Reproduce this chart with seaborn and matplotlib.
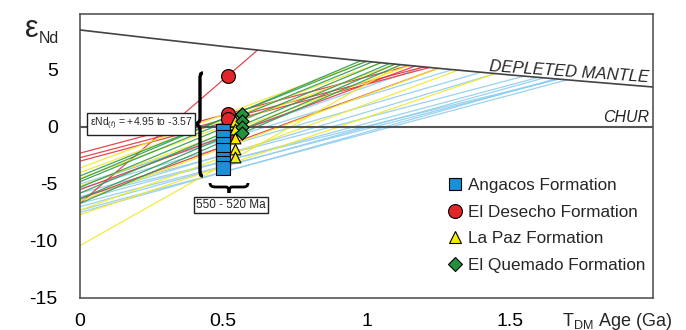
import numpy as np
import pandas as pd
import matplotlib
matplotlib.use("Agg")
import matplotlib.pyplot as plt
from matplotlib.path import Path
from matplotlib.patches import PathPatch
from matplotlib.lines import Line2D
import seaborn as sns

# ---------------- data ----------------
# Depleted mantle reference curve
dm_t = [0.0, 0.25, 0.5, 0.75, 1.0, 1.25, 1.5, 1.75, 2.0]
dm_eps = [8.5, 7.77, 7.06, 6.39, 5.75, 5.14, 4.56, 4.02, 3.5]

formations = ["Angacos Formation", "El Desecho Formation",
              "La Paz Formation", "El Quemado Formation"]

# evolution lines: epsilon at T=0 and model age T_DM (Ga)
ang_e0 = [-5.0, -5.2, -5.4, -5.8, -6.1, -6.2, -6.4, -6.7, -7.0, -7.3, -7.5]
ang_tdm = [1.30, 1.20, 1.40, 1.55, 1.67, 1.45, 1.60, 1.67, 1.62, 1.70, 1.66]
des_e0 = [-6.7, -2.3, -2.7, -3.0, -5.5, -6.3]
des_tdm = [0.62, 1.15, 1.20, 1.22, 1.17, 1.25]
paz_e0 = [-3.6, -4.0, -4.5, -5.2, -6.5, -7.3, -7.7, -10.4]
paz_tdm = [1.00, 1.05, 1.10, 1.15, 1.25, 1.32, 1.45, 1.12]
que_e0 = [-4.3, -4.6, -4.8, -5.3, -5.8, -6.3, -6.7]
que_tdm = [1.00, 0.98, 1.02, 1.05, 1.08, 1.10, 1.12]

# crystallisation-age samples
ang_age, ang_eps = 0.50, [-0.4, -0.9, -1.5, -2.0, -2.8, -3.2, -3.57]
des_age, des_eps = 0.515, [4.45, 1.1, 0.7, -0.8]
paz_age, paz_eps = 0.54, [0.5, -0.2, -1.0, -1.9, -2.6]
que_age, que_eps = 0.565, [1.1, 0.5, 0.0, -0.5]

# ---------------- tables ----------------
rows = []
uid = 0
for form, e0s, tdms in zip(formations,
                           [ang_e0, des_e0, paz_e0, que_e0],
                           [ang_tdm, des_tdm, paz_tdm, que_tdm]):
    for e0, t in zip(e0s, tdms):
        rows.append(dict(formation=form, unit=uid, T=0.0, eps=e0))
        rows.append(dict(formation=form, unit=uid, T=t,
                         eps=float(np.interp(t, dm_t, dm_eps))))
        uid += 1
lines_df = pd.DataFrame(rows)

pts = []
for form, age, eps in zip(formations, [ang_age, des_age, paz_age, que_age],
                          [ang_eps, des_eps, paz_eps, que_eps]):
    for e in eps:
        pts.append(dict(formation=form, T=age, eps=e))
pts_df = pd.DataFrame(pts)

# ---------------- style ----------------
sns.set_style("white")
plt.rcParams["font.family"] = ["Liberation Sans", "DejaVu Sans"]
plt.rcParams["mathtext.fontset"] = "custom"
plt.rcParams["mathtext.rm"] = "Liberation Sans"
plt.rcParams["mathtext.it"] = "Liberation Sans:italic"

line_colors = {"Angacos Formation": "#8fcdee",
               "El Desecho Formation": "#e5333b",
               "La Paz Formation": "#f4e82a",
               "El Quemado Formation": "#2f9a52"}
mk_face = {"Angacos Formation": "#1b8fd8",
           "El Desecho Formation": "#e0262b",
           "La Paz Formation": "#f6ec00",
           "El Quemado Formation": "#23913c"}
mk_shape = {"Angacos Formation": "s", "El Desecho Formation": "o",
            "La Paz Formation": "^", "El Quemado Formation": "D"}
mk_size = {"Angacos Formation": 88, "El Desecho Formation": 100,
           "La Paz Formation": 60, "El Quemado Formation": 45}

W, H = 686, 330
fig = plt.figure(figsize=(W / 100, H / 100), dpi=100)
ax = fig.add_axes([80 / W, 1 - 298 / H, (653 - 80) / W, (298 - 14) / H])

sns.lineplot(data=lines_df, x="T", y="eps", hue="formation", units="unit",
             estimator=None, palette=line_colors, lw=0.9, alpha=0.9,
             legend=False, ax=ax, zorder=2)

# reference curves
sns.lineplot(x=dm_t, y=dm_eps, color="#444444", lw=1.2, ax=ax, zorder=3)
ax.axhline(0, color="#555555", lw=1.5, zorder=3)

# markers
for form in ["El Desecho Formation", "Angacos Formation",
             "La Paz Formation", "El Quemado Formation"]:
    sub = pts_df[pts_df.formation == form]
    sns.scatterplot(data=sub, x="T", y="eps", marker=mk_shape[form],
                    s=mk_size[form], color=mk_face[form], edgecolor="black",
                    linewidth=0.8, ax=ax, zorder=5, legend=False)

ax.set_xlim(0, 2.0)
ax.set_ylim(-15, 9.9)
ax.set_xticks([0, 0.5, 1, 1.5])
ax.set_xticklabels(["0", "0.5", "1", "1.5"])
ax.set_yticks([5, 0, -5, -10, -15])
ax.set_yticklabels(["5", "0", "-5", "-10", "-15"])
ax.tick_params(axis="both", direction="inout", width=1,
               color="#a0a0a0", labelsize=14, labelcolor="black")
ax.tick_params(axis="y", length=26, pad=3)
ax.tick_params(axis="x", length=22, pad=0)
for sp in ax.spines.values():
    sp.set_color("#555555")
    sp.set_linewidth(1.2)
ax.set_xlabel("")
ax.set_ylabel("")

# axis titles
fig.text(25 / W, 1 - 37 / H, "ε", fontsize=22, ha="left", va="baseline")
fig.text(39 / W, 1 - 43 / H, "Nd", fontsize=11.5, ha="left", va="baseline")
fig.text(617 / W, 1 - 321 / H, r"T$_{\mathrm{DM}}$ Age (Ga)", fontsize=13,
         ha="center", va="center")

# curve labels
ax.text(1.985, 3.7, "DEPLETED MANTLE", fontsize=12, style="italic",
        ha="right", va="bottom", rotation=-4, rotation_mode="anchor")
ax.text(1.985, 0.2, "CHUR", fontsize=11.5, style="italic", ha="right",
        va="bottom")

# boxed annotations
fig.text(141 / W, 1 - 124 / H, "εNd$_{(t)}$ = +4.95 to -3.57", fontsize=7.5,
         ha="center", va="center",
         bbox=dict(boxstyle="square,pad=0.25", fc="white", ec="#222222", lw=1))
fig.text(231 / W, 1 - 205 / H, "550 - 520 Ma", fontsize=8.5,
         ha="center", va="center",
         bbox=dict(boxstyle="square,pad=0.2", fc="white", ec="#222222", lw=1))


def px(x, y):
    return (x / W, 1 - y / H)


# vertical brace
xc, y0, y1, ym, tip = 200, 73, 176, 124, 193
verts = [px(xc + 3, y0), px(xc, y0), px(xc, y0 + 2), px(xc, y0 + 8),
         px(xc, ym - 6),
         px(xc, ym - 2), px(xc - 2, ym), px(tip, ym),
         px(xc - 2, ym), px(xc, ym + 2), px(xc, ym + 6),
         px(xc, y1 - 8),
         px(xc, y1 - 2), px(xc, y1), px(xc + 3, y1)]
codes = [Path.MOVETO, Path.CURVE4, Path.CURVE4, Path.CURVE4, Path.LINETO,
         Path.CURVE4, Path.CURVE4, Path.CURVE4,
         Path.CURVE4, Path.CURVE4, Path.CURVE4, Path.LINETO,
         Path.CURVE4, Path.CURVE4, Path.CURVE4]
fig.add_artist(PathPatch(Path(verts, codes), fc="none", ec="black", lw=2.4,
                         transform=fig.transFigure))

# horizontal brace
yb, ye, yt = 187, 183, 193
verts = [px(210, ye), px(210, yb - 1), px(212, yb), px(216, yb),
         px(226, yb),
         px(228, yb), px(229, yb + 2), px(229, yt),
         px(229, yb + 2), px(230, yb), px(232, yb),
         px(243, yb),
         px(246, yb), px(248, yb - 1), px(248, ye)]
fig.add_artist(PathPatch(Path(verts, codes), fc="none", ec="black", lw=2.0,
                         transform=fig.transFigure))

# legend
handles = [Line2D([], [], ls="none", marker=mk_shape[f], markersize=m,
                  markerfacecolor=mk_face[f], markeredgecolor="black",
                  markeredgewidth=0.8, label=f)
           for f, m in zip(formations, [9, 10, 8, 7])]
leg = ax.legend(handles=handles, loc="upper left",
                bbox_to_anchor=(447 / W, 1 - 178 / H),
                bbox_transform=fig.transFigure, frameon=False, fontsize=12.3,
                handlelength=0.9, handletextpad=0.3, labelspacing=0.68,
                borderpad=0, borderaxespad=0)

fig.savefig("out.png", dpi=100)
